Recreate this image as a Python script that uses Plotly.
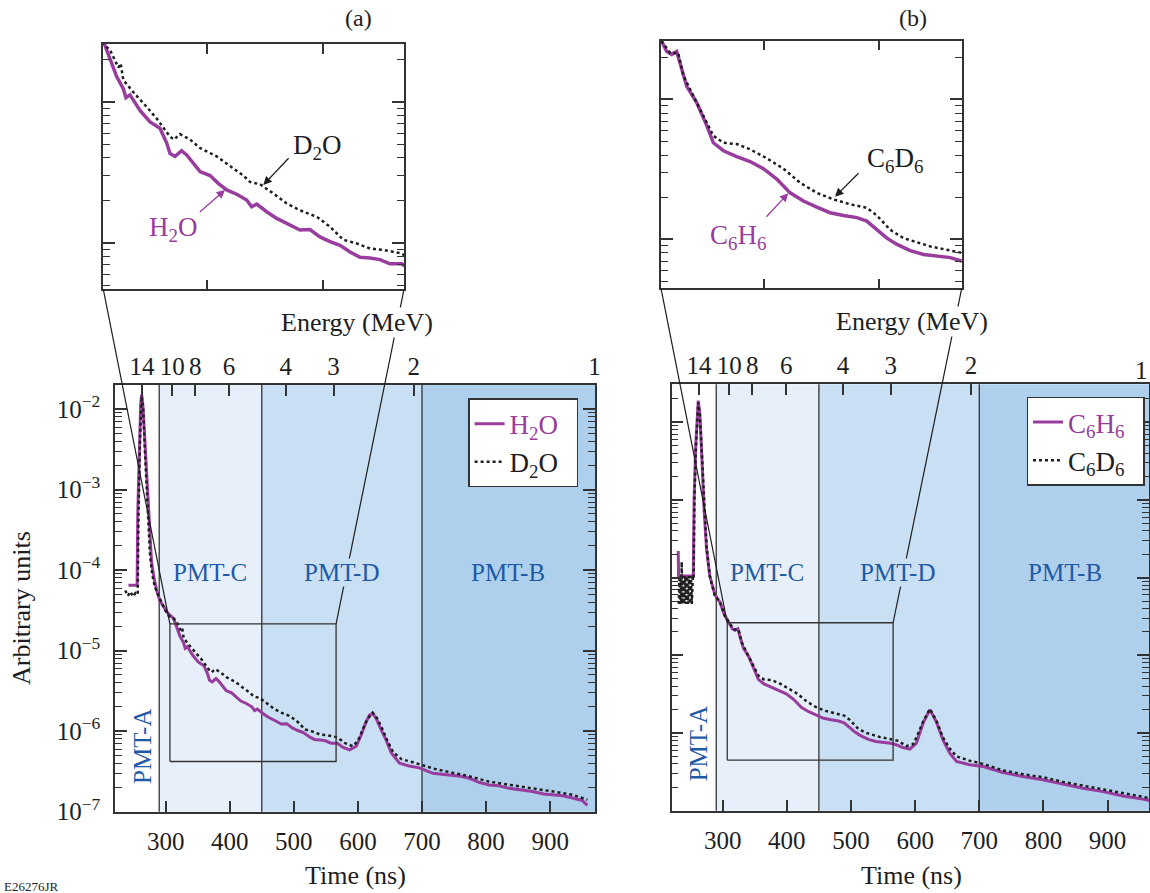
import numpy as np
import plotly.graph_objects as go

# ---------------- data ----------------
# Panel (a): H2O and D2O, time (ns) vs signal (arbitrary units)
T_H2O = [242, 246, 250, 254, 255.5, 256.5, 258.5, 261, 262.6, 264.5,
         267, 270, 272.5, 275.5, 278, 282, 286, 291, 297, 303,
         312.5, 316.8, 322.5, 328.2, 330.5, 334, 342.6, 351.2, 359.8, 365.6,
         368.5, 372.8, 378.5, 382.8, 388.5, 394.3, 402.9, 410, 417.3, 425.9,
         434.5, 438.8, 443.1, 451.7, 460.4, 471.8, 480.4, 489, 497.6, 506.3,
         514.9, 523.5, 532.1, 540.7, 549.3, 557.9, 568, 577, 587, 597.5,
         605, 612, 618, 623.4, 629, 636, 644, 652, 665, 680,
         696, 717, 743, 760, 774, 790, 805, 820, 836, 855,
         872.6, 890, 903.7, 920, 935, 950, 958]
V_H2O = [6.5e-5, 6.5e-5, 6.5e-5, 6.5e-5, 6.5e-5, 5.0e-4, 2.5e-3, 1.12e-2, 1.51e-2, 1.12e-2,
         5.0e-3, 1.78e-3, 6.3e-4, 2.24e-4, 1.26e-4, 7.9e-5, 5.6e-5, 4.2e-5, 3.55e-5, 2.95e-5,
         2.5e-5, 2.0e-5, 1.51e-5, 1.24e-5, 1.07e-5, 1.12e-5, 8.7e-6, 7.2e-6, 6.5e-6, 5.1e-6,
         4.3e-6, 4.1e-6, 4.5e-6, 4.2e-6, 3.65e-6, 3.2e-6, 3.0e-6, 2.64e-6, 2.37e-6, 2.21e-6,
         2.01e-6, 1.80e-6, 1.88e-6, 1.66e-6, 1.49e-6, 1.34e-6, 1.23e-6, 1.24e-6, 1.10e-6, 1.02e-6,
         9.6e-7, 8.6e-7, 7.9e-7, 7.8e-7, 7.6e-7, 7.1e-7, 7.1e-7, 6.3e-7, 5.85e-7, 6.5e-7,
         8.9e-7, 1.26e-6, 1.58e-6, 1.66e-6, 1.41e-6, 1.05e-6, 7.8e-7, 5.4e-7, 4.0e-7, 3.7e-7,
         3.5e-7, 3.0e-7, 2.86e-7, 2.75e-7, 2.6e-7, 2.3e-7, 2.15e-7, 2.1e-7, 1.95e-7, 1.86e-7,
         1.78e-7, 1.66e-7, 1.62e-7, 1.58e-7, 1.48e-7, 1.38e-7, 1.2e-7]

T_D2O = [237, 241, 245, 249, 253, 256.5, 257.5, 260, 262.6, 265,
         267.5, 270, 272.5, 275.5, 279, 283, 288, 293, 299, 305,
         312.5, 316.8, 324, 326, 328.2, 336.8, 348.4, 357, 368.5, 372,
         377, 385.7, 394.3, 402.9, 408.7, 420.1, 431.6, 437.4, 446, 457.4,
         469, 480.4, 494.8, 506.3, 517.7, 529.2, 540.7, 552.2, 560.8, 568,
         580, 592, 600, 607, 614, 623, 630, 638, 646, 655,
         668, 691, 701, 720, 743, 770, 805, 835, 872, 905,
         935, 958]
V_D2O = [5.6e-5, 4.8e-5, 5.4e-5, 4.7e-5, 5.2e-5, 5.0e-5, 4.0e-4, 4.0e-3, 1.45e-2, 1.0e-2,
         3.2e-3, 1.1e-3, 4.5e-4, 1.6e-4, 8.9e-5, 6.3e-5, 5.0e-5, 4.0e-5, 3.2e-5, 2.7e-5,
         2.5e-5, 2.33e-5, 1.75e-5, 1.87e-5, 1.43e-5, 1.17e-5, 9.2e-6, 7.6e-6, 5.65e-6, 5.4e-6,
         5.9e-6, 5.4e-6, 4.7e-6, 4.3e-6, 4.1e-6, 3.5e-6, 3.0e-6, 2.7e-6, 2.6e-6, 2.24e-6,
         1.9e-6, 1.7e-6, 1.53e-6, 1.3e-6, 1.05e-6, 9.9e-7, 9.1e-7, 8.9e-7, 8.6e-7, 8.4e-7,
         7.1e-7, 6.5e-7, 7.6e-7, 1.0e-6, 1.38e-6, 1.7e-6, 1.45e-6, 1.07e-6, 7.6e-7, 5.5e-7,
         4.5e-7, 4.0e-7, 3.8e-7, 3.4e-7, 3.1e-7, 2.8e-7, 2.36e-7, 2.15e-7, 1.95e-7, 1.78e-7,
         1.62e-7, 1.41e-7]

# Panel (b): C6H6 and C6D6
T_C6H6 = [230.8, 231.3, 236, 242, 248, 254.2, 255.5, 258, 262, 264.5,
          267.3, 271, 275, 280, 288, 296, 303, 310.6, 315, 319.3,
          323.7, 326.5, 332.4, 341.1, 349.9, 355.6, 364.4, 376, 387.6, 399.2,
          410.9, 422.5, 434.1, 445.7, 457.3, 469, 480.7, 489.3, 498.1, 506.8,
          515.6, 527.1, 538.8, 550.4, 562, 572.2, 581, 591.7, 602, 612.5,
          623, 633, 643.6, 654, 664.5, 685, 706, 737, 768, 799,
          830.5, 861.7, 893, 924, 955, 966]
V_C6H6 = [2.2e-4, 1.05e-4, 1.05e-4, 1.05e-4, 1.05e-4, 1.05e-4, 1.0e-3, 5.0e-3, 1.9e-2, 1.26e-2,
          4.1e-3, 7.6e-4, 2.3e-4, 1.05e-4, 6.0e-5, 4.8e-5, 3.3e-5, 2.6e-5, 2.2e-5, 2.1e-5,
          2.2e-5, 1.8e-5, 1.24e-5, 9.5e-6, 6.5e-6, 4.9e-6, 4.3e-6, 3.9e-6, 3.6e-6, 3.2e-6,
          2.7e-6, 2.15e-6, 1.88e-6, 1.7e-6, 1.55e-6, 1.48e-6, 1.43e-6, 1.35e-6, 1.17e-6, 1.02e-6,
          9.2e-7, 8.3e-7, 7.8e-7, 7.6e-7, 7.4e-7, 7.0e-7, 6.5e-7, 6.2e-7, 7.4e-7, 1.35e-6,
          2.0e-6, 1.4e-6, 8.1e-7, 5.5e-7, 4.3e-7, 3.9e-7, 3.7e-7, 3.1e-7, 2.75e-7, 2.5e-7,
          2.2e-7, 1.95e-7, 1.76e-7, 1.55e-7, 1.41e-7, 1.35e-7]

T_C6D6 = [231.5, 232.5, 233.5, 234.5, 235.5, 236.2, 237, 238.5, 240, 241.5,
          243, 244.5, 246, 247.5, 249, 250.5, 252, 253.5, 254.8, 256,
          258.5, 262, 264.5, 267.3, 271, 275, 280, 288, 296, 303,
          310.6, 318, 325, 329.5, 338.2, 348.3, 355.6, 364.4, 376, 387.6,
          402.1, 416.7, 431.2, 445.7, 460.3, 474.8, 489.3, 498.1, 509.7, 521.3,
          533.1, 544.8, 556.4, 572.2, 586.6, 597, 605, 612.5, 623, 633,
          643.6, 654, 664.5, 685, 706, 737, 768, 799, 830.5, 861.7,
          893, 924, 955, 966]
V_C6D6 = [4.6e-5, 1.05e-4, 4.6e-5, 1.05e-4, 4.6e-5, 1.6e-4, 4.6e-5, 1.05e-4, 4.6e-5, 1.05e-4,
          4.6e-5, 1.05e-4, 4.6e-5, 1.05e-4, 4.6e-5, 1.05e-4, 4.6e-5, 1.05e-4, 1.0e-4, 1.0e-3,
          5.0e-3, 1.8e-2, 1.26e-2, 4.1e-3, 8.0e-4, 2.5e-4, 1.05e-4, 5.8e-5, 4.8e-5, 3.3e-5,
          2.6e-5, 2.15e-5, 2.15e-5, 1.48e-5, 1.06e-5, 7.2e-6, 5.5e-6, 4.9e-6, 4.8e-6, 4.4e-6,
          3.8e-6, 3.2e-6, 2.54e-6, 2.15e-6, 1.93e-6, 1.78e-6, 1.68e-6, 1.48e-6, 1.17e-6, 1.02e-6,
          9.5e-7, 8.9e-7, 8.5e-7, 8.0e-7, 6.8e-7, 7.2e-7, 1.0e-6, 1.41e-6, 2.04e-6, 1.45e-6,
          8.7e-7, 6.3e-7, 5.0e-7, 4.4e-7, 4.0e-7, 3.3e-7, 2.95e-7, 2.7e-7, 2.35e-7, 2.1e-7,
          1.86e-7, 1.66e-7, 1.51e-7, 1.45e-7]

for a, b in [(T_H2O, V_H2O), (T_D2O, V_D2O), (T_C6H6, V_C6H6), (T_C6D6, V_C6D6)]:
    assert len(a) == len(b), (len(a), len(b))

# axes / tick data
X_TICKS = [300, 400, 500, 600, 700, 800, 900]
Y_DECADES = [1e-7, 1e-6, 1e-5, 1e-4, 1e-3, 1e-2]
Y_LABELS = ["10<sup>−7</sup>", "10<sup>−6</sup>", "10<sup>−5</sup>",
            "10<sup>−4</sup>", "10<sup>−3</sup>", "10<sup>−2</sup>"]
E_TICKS = [14, 10, 8, 6, 4, 3, 2, 1]          # neutron energy (MeV)
TOF_T0, TOF_K = 5.4, 964.0                     # t = T0 + K / sqrt(E)
PMT_BOUNDS = [290, 450, 700]
INSET_XTICKS = [400, 500]
ZOOM_A_T, ZOOM_A_V = (306.7, 566.0), (4.2e-7, 2.15e-5)
ZOOM_B_T, ZOOM_B_V = (307.2, 565.7), (4.47e-7, 2.63e-5)

# ---------------- style / geometry ----------------
W, H = 1150, 893
FONT = "Liberation Serif"
PURPLE = "#983c9d"
BLACK = "#1e1e1e"
AXC = "#333333"
BLUE_TXT = "#1f5aa6"
C_REG, D_REG, B_REG = "#e7f0fa", "#c9dff3", "#aed0ec"


def PX(x):
    return x / W


def PY(y):
    return 1 - y / H


MAIN_A_X, MAIN_A_Y = [PX(115), PX(595)], [PY(811.7), PY(385)]
MAIN_B_X, MAIN_B_Y = [PX(671.7), PX(1149)], [PY(810.7), PY(384.3)]
INS_A_X, INS_A_Y = [PX(103.3), PX(404)], [PY(289.3), PY(44)]
INS_B_X, INS_B_Y = [PX(661), PX(961.7)], [PY(288.3), PY(40.7)]
XR_A, YR_A = [221, 970], [-7, -1.70]
XR_B, YR_B = [220.6, 964.5], [-7, -1.51]
XR_IA, YR_IA = [311, 570], [-6.33, -4.59]
XR_IB, YR_IB = [310, 572], [-6.35, -4.58]

E_TIMES = [TOF_T0 + TOF_K / np.sqrt(e) for e in E_TICKS]


def to_paper(t, v, xdom, xr, ydom, yr):
    xp = xdom[0] + (t - xr[0]) / (xr[1] - xr[0]) * (xdom[1] - xdom[0])
    yp = ydom[0] + (np.log10(v) - yr[0]) / (yr[1] - yr[0]) * (ydom[1] - ydom[0])
    return xp, yp


def minor_vals(lo, hi):
    out = []
    for d in range(int(np.floor(lo)) - 1, int(np.ceil(hi)) + 1):
        for m in range(2, 10):
            v = m * 10.0 ** d
            if lo <= np.log10(v) <= hi:
                out.append(v)
    return out


TICKFONT = dict(family=FONT, size=25, color=BLACK)
fig = go.Figure()

# ---------------- traces ----------------
def add_pair(tp, vp, tb, vb, xa, ya, names, legend, show, wp, wb):
    fig.add_trace(go.Scatter(x=tp, y=vp, xaxis=xa, yaxis=ya, mode="lines",
                             line=dict(color=PURPLE, width=wp), name=names[0],
                             legend=legend, showlegend=show, hoverinfo="skip"))
    fig.add_trace(go.Scatter(x=tb, y=vb, xaxis=xa, yaxis=ya, mode="lines",
                             line=dict(color=BLACK, width=wb, dash="dot"), name=names[1],
                             legend=legend, showlegend=show, hoverinfo="skip"))


PAD = "\u00a0\u00a0"
NAMES_A = ['<span style="color:%s">H<sub>2</sub>O</span>' % PURPLE + PAD,
           "D<sub>2</sub>O" + PAD]
NAMES_B = ['<span style="color:%s">C<sub>6</sub>H<sub>6</sub></span>' % PURPLE + PAD,
           "C<sub>6</sub>D<sub>6</sub>" + PAD]

add_pair(T_H2O, V_H2O, T_D2O, V_D2O, "x", "y", NAMES_A, "legend", True, 3, 2.5)
add_pair(T_H2O, V_H2O, T_D2O, V_D2O, "x2", "y2", NAMES_A, "legend", False, 3.5, 2.5)
add_pair(T_C6H6, V_C6H6, T_C6D6, V_C6D6, "x3", "y3", NAMES_B, "legend2", True, 3, 2.5)
add_pair(T_C6H6, V_C6H6, T_C6D6, V_C6D6, "x4", "y4", NAMES_B, "legend2", False, 3.5, 2.5)

# zoom rectangles (drawn through the main axes)
for (zt, zv), xa, ya in [((ZOOM_A_T, ZOOM_A_V), "x", "y"), ((ZOOM_B_T, ZOOM_B_V), "x3", "y3")]:
    fig.add_trace(go.Scatter(x=[zt[0], zt[1], zt[1], zt[0], zt[0]],
                             y=[zv[0], zv[0], zv[1], zv[1], zv[0]],
                             xaxis=xa, yaxis=ya, mode="lines",
                             line=dict(color=AXC, width=1.3), showlegend=False,
                             hoverinfo="skip"))

# invisible anchors for the energy axes
for xa in ["x5", "x6"]:
    fig.add_trace(go.Scatter(x=[500], y=[1e-6], xaxis=xa, yaxis="y" if xa == "x5" else "y3",
                             mode="markers", marker=dict(opacity=0), showlegend=False,
                             hoverinfo="skip"))

# ---------------- shapes ----------------
shapes = []
for xref, yref in [("x", "y domain"), ("x3", "y3 domain")]:
    for (x0, x1, col) in [(PMT_BOUNDS[0], PMT_BOUNDS[1], C_REG),
                          (PMT_BOUNDS[1], PMT_BOUNDS[2], D_REG),
                          (PMT_BOUNDS[2], 1000, B_REG)]:
        shapes.append(dict(type="rect", xref=xref, yref=yref, x0=x0, x1=x1, y0=0, y1=1,
                           fillcolor=col, line=dict(width=0), layer="below"))
    for b in PMT_BOUNDS:
        shapes.append(dict(type="line", xref=xref, yref=yref, x0=b, x1=b, y0=0, y1=1,
                           line=dict(color=AXC, width=1.3), layer="below"))

# connector lines: inset bottom corners -> zoom rectangle top corners
for (zt, zv, xdom, xr, ydom, yr, idx, idy) in [
        (ZOOM_A_T, ZOOM_A_V, MAIN_A_X, XR_A, MAIN_A_Y, YR_A, INS_A_X, INS_A_Y),
        (ZOOM_B_T, ZOOM_B_V, MAIN_B_X, XR_B, MAIN_B_Y, YR_B, INS_B_X, INS_B_Y)]:
    for k in (0, 1):
        px_, py_ = to_paper(zt[k], zv[1], xdom, xr, ydom, yr)
        shapes.append(dict(type="line", xref="paper", yref="paper",
                           x0=idx[k], y0=idy[0], x1=px_, y1=py_,
                           line=dict(color=BLACK, width=1.2), layer="above"))

# ---------------- annotations ----------------
ann = []


def text(x, y, s, size=25, color=BLACK, angle=0, bg=None, xanchor="center"):
    d = dict(x=PX(x), y=PY(y), xref="paper", yref="paper", text=s, showarrow=False,
             font=dict(family=FONT, size=size, color=color), textangle=angle,
             xanchor=xanchor, yanchor="middle")
    if bg:
        d.update(bgcolor=bg, borderpad=0)
    ann.append(d)


def arrow(tail, head, color):
    ann.append(dict(x=PX(head[0]), y=PY(head[1]), ax=tail[0] - head[0], ay=tail[1] - head[1],
                    xref="paper", yref="paper", axref="pixel", ayref="pixel", text="",
                    showarrow=True, arrowhead=2, arrowsize=1.3, arrowwidth=1.3,
                    arrowcolor=color))


text(358, 18, "(a)", 24)
text(913, 18, "(b)", 24)
text(356.5, 323, "Energy (MeV)", 26, bg="white")
text(911.5, 321, "Energy (MeV)", 26, bg="white")
text(355, 875, "Time (ns)", 26)
text(911.7, 875, "Time (ns)", 26)
text(21, 608, "Arbitrary units", 26, angle=-90)
text(2, 886, "E26276JR", 13, xanchor="left")

# PMT labels
text(210, 572, "PMT-C", 25, BLUE_TXT)
text(341.7, 572, "PMT-D", 25, BLUE_TXT, bg=D_REG)
text(508.3, 572, "PMT-B", 25, BLUE_TXT)
text(142, 746, "PMT-A", 25, BLUE_TXT, angle=-90)
text(766.7, 572, "PMT-C", 25, BLUE_TXT)
text(898.3, 572, "PMT-D", 25, BLUE_TXT, bg=D_REG)
text(1065, 572, "PMT-B", 25, BLUE_TXT)
text(698.3, 743, "PMT-A", 25, BLUE_TXT, angle=-90)

# inset labels
text(316.7, 147, "D<sub>2</sub>O", 27)
text(173.3, 229, "H<sub>2</sub>O", 27, PURPLE)
arrow((290, 156.7), (263.3, 185), BLACK)
arrow((198.3, 213.3), (225, 190), PURPLE)
text(895, 160, "C<sub>6</sub>D<sub>6</sub>", 27)
text(738.3, 237, "C<sub>6</sub>H<sub>6</sub>", 27, PURPLE)
arrow((860, 171.7), (835, 196.7), BLACK)
arrow((765, 218.3), (788.3, 193.3), PURPLE)

# energy label "1" of panel (b) sits at the right edge of the figure
ann.append(dict(x=1.0, y=PY(370), xref="paper", yref="paper", text=str(E_TICKS[-1]),
                showarrow=False, font=TICKFONT, xanchor="right", yanchor="middle"))

# ---------------- axes ----------------
LINE = dict(showline=True, linecolor=AXC, linewidth=1.5, showgrid=False, zeroline=False,
            automargin=False)


def main_x(dom, xr, anchor):
    return dict(domain=dom, range=xr, anchor=anchor, tickmode="array", tickvals=X_TICKS,
                ticktext=[str(v) for v in X_TICKS], ticks="inside", ticklen=11,
                tickwidth=1.5, tickcolor=AXC, mirror=True, tickfont=TICKFONT,
                ticklabelstandoff=7, tickangle=0, **LINE)


def main_y(dom, yr, anchor, labels):
    return dict(domain=dom, range=yr, type="log", anchor=anchor, tickmode="array",
                tickvals=Y_DECADES, ticktext=Y_LABELS, ticks="inside", ticklen=12,
                tickwidth=1.5, tickcolor=AXC, mirror="ticks", tickfont=TICKFONT,
                showticklabels=labels, ticklabelstandoff=8,
                minor=dict(tickmode="array", tickvals=minor_vals(yr[0], yr[1]),
                           ticks="inside", ticklen=7, tickwidth=1.2, tickcolor=AXC),
                **LINE)


def inset_x(dom, xr, anchor):
    return dict(domain=dom, range=xr, anchor=anchor, tickmode="array",
                tickvals=INSET_XTICKS, ticks="inside", ticklen=10, tickwidth=1.5,
                tickcolor=AXC, mirror="ticks", showticklabels=False, **LINE)


def inset_y(dom, yr, anchor):
    return dict(domain=dom, range=yr, type="log", anchor=anchor, tickmode="array",
                tickvals=[1e-6, 1e-5], ticks="inside", ticklen=12, tickwidth=1.5,
                tickcolor=AXC, mirror="ticks", showticklabels=False,
                minor=dict(tickmode="array", tickvals=minor_vals(yr[0], yr[1]),
                           ticks="inside", ticklen=7, tickwidth=1.2, tickcolor=AXC),
                **LINE)


def energy_x(over, xr, anchor):
    return dict(overlaying=over, side="top", anchor=anchor, range=xr, tickmode="array",
                tickvals=E_TIMES, ticktext=[str(e) for e in E_TICKS], ticks="inside",
                ticklen=11, tickwidth=1.5, tickcolor=AXC, showline=False, showgrid=False,
                zeroline=False, automargin=False, tickfont=TICKFONT, ticklabelstandoff=4,
                tickangle=0)


legend_common = dict(xanchor="left", yanchor="top", bgcolor="white", bordercolor=AXC,
                     borderwidth=1.3, font=dict(family=FONT, size=27, color=BLACK),
                     itemwidth=30, tracegroupgap=0)

fig.update_layout(
    template="none",
    width=W, height=H, margin=dict(l=0, r=0, t=0, b=0, pad=0, autoexpand=False),
    paper_bgcolor="white", plot_bgcolor="white",
    font=dict(family=FONT, size=25, color=BLACK),
    xaxis=main_x(MAIN_A_X, XR_A, "y"),
    yaxis=main_y(MAIN_A_Y, YR_A, "x", True),
    xaxis2=inset_x(INS_A_X, XR_IA, "y2"),
    yaxis2=inset_y(INS_A_Y, YR_IA, "x2"),
    xaxis3=main_x(MAIN_B_X, XR_B, "y3"),
    yaxis3=main_y(MAIN_B_Y, YR_B, "x3", False),
    xaxis4=inset_x(INS_B_X, XR_IB, "y4"),
    yaxis4=inset_y(INS_B_Y, YR_IB, "x4"),
    xaxis5=energy_x("x", XR_A, "y"),
    xaxis6=energy_x("x3", XR_B, "y3"),
    legend=dict(x=PX(468.3), y=PY(398.3), **legend_common),
    legend2=dict(x=PX(1026.7), y=PY(396.7), **legend_common),
    shapes=shapes, annotations=ann, showlegend=True,
)

fig.write_html("out.html")
